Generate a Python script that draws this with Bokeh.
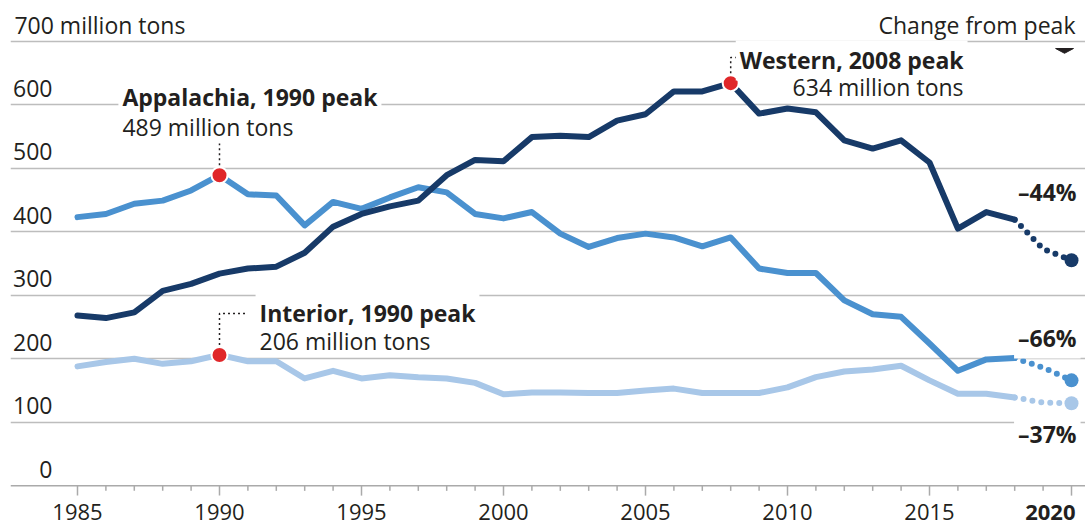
from bokeh.plotting import figure
from bokeh.models import Range1d, FixedTicker, Label
from bokeh.core.properties import value
from bokeh.embed import file_html
from bokeh.resources import INLINE

# ---------------- data ----------------
years = list(range(1985, 2019))
western = [268, 264, 273, 307, 318, 334, 342, 345, 367, 408,
           428, 440, 449, 489, 513, 511, 549, 551, 549, 575,
           585, 621, 621, 634, 586, 594, 588, 544, 531, 544,
           509, 405, 431, 419]
appalachia = [423, 428, 444, 449, 465, 489, 459, 457, 410, 447,
              436, 454, 470, 462, 428, 421, 431, 397, 376, 390,
              397, 391, 377, 391, 342, 335, 335, 292, 270, 266,
              224, 181, 199, 201]
interior = [188, 195, 200, 192, 196, 206, 196, 196, 169, 181,
            169, 174, 171, 169, 162, 144, 147, 147, 146, 146,
            150, 153, 146, 146, 146, 155, 171, 180, 183, 189,
            166, 145, 145, 139]
proj_years = [2018, 2019, 2020]
western_proj = [419, 373, 355]
appalachia_proj = [201, 186, 166]
interior_proj = [139, 131, 130]

y_ticks = [0, 100, 200, 300, 400, 500, 600]
major_years = [1985, 1990, 1995, 2000, 2005, 2010, 2015, 2020]
minor_years = [y for y in range(1985, 2021) if y % 5 != 0]
change_labels = ["\u201344%", "\u201366%", "\u201337%"]

# ---------------- style ----------------
C_WEST = "#173a68"
C_APP = "#4a91cf"
C_INT = "#a8c7e8"
C_RED = "#e0272a"
C_TXT = "#231f20"
C_GRID = "#bdbdbd"
C_AXIS = "#aaaaaa"
FONT = "Open Sans"
FS = "23px"

X0, X1 = 1982.641, 2020.493
p = figure(width=1085, height=527, output_backend="svg", toolbar_location=None,
           x_range=Range1d(X0, X1), y_range=Range1d(-65.7, 764.1),
           min_border_left=10, min_border_right=0, min_border_top=0, min_border_bottom=0)
p.outline_line_color = None
p.background_fill_color = "white"
p.xaxis.visible = False
p.yaxis.visible = False
p.xgrid.visible = False
p.ygrid.ticker = FixedTicker(ticks=[100, 200, 300, 400, 500, 600, 700])
p.ygrid.grid_line_color = C_GRID
p.ygrid.grid_line_width = 1.5

# x axis: baseline, ticks and labels
p.line([X0, X1], [0, 0], line_color=C_AXIS, line_width=1.5)
p.segment(x0=major_years, y0=[0] * len(major_years), x1=major_years, y1=[-15.5] * len(major_years),
          line_color=C_AXIS, line_width=1.5)
p.segment(x0=minor_years, y0=[0] * len(minor_years), x1=minor_years, y1=[-8] * len(minor_years),
          line_color=C_AXIS, line_width=1.5)
p.text(x=major_years[:-1], y=[-42.0] * (len(major_years) - 1), text=[str(v) for v in major_years[:-1]],
       text_font=value(FONT), text_font_size="22px", text_color=C_TXT,
       text_align="center", text_baseline="middle")
p.text(x=[2020.14], y=[-42.0], text=[str(major_years[-1])], text_font=value(FONT),
       text_font_size="22px", text_font_style="bold", text_color=C_TXT,
       text_align="right", text_baseline="middle")

# y tick labels (sit above the gridlines)
p.text(x=[1984.12] * len(y_ticks), y=[v + 26 for v in y_ticks], text=[str(v) for v in y_ticks],
       text_font=value(FONT), text_font_size=FS, text_color=C_TXT,
       text_align="right", text_baseline="middle")
p.text(x=[1982.78], y=[726], text=["700 million tons"], text_font=value(FONT),
       text_font_size=FS, text_color=C_TXT, text_align="left", text_baseline="middle")
p.text(x=[2020.14], y=[726], text=["Change from peak"], text_font=value(FONT),
       text_font_size=FS, text_color=C_TXT, text_align="right", text_baseline="middle")
p.patch(x=[2019.44, 2020.07, 2019.755], y=[688.5, 688.5, 681], color=C_TXT)

# leaders (dotted)
def peak(s):
    i = max(range(len(s)), key=lambda k: s[k])
    return years[i], s[i]

ax_, ay_ = peak(appalachia)
wx_, wy_ = peak(western)
ix_, iy_ = peak(interior)
p.line([ax_, ax_], [ay_, 539], line_color=C_TXT, line_width=1.5, line_dash="2 3")
p.line([wx_, wx_, wx_ + 0.32], [wy_, 674.4, 674.4], line_color=C_TXT, line_width=1.5, line_dash="2 3")
p.line([ix_, ix_, ix_ + 0.93], [iy_, 271.3, 271.3], line_color=C_TXT, line_width=1.5, line_dash="2 3")

# series
for ys, py, col in [(interior, interior_proj, C_INT), (appalachia, appalachia_proj, C_APP),
                    (western, western_proj, C_WEST)]:
    p.line(years, ys, line_color=col, line_width=6, line_join="round", line_cap="round")
    p.line(proj_years, py, line_color=col, line_width=6, line_dash="0 9", line_cap="round")
    p.scatter([proj_years[-1]], [py[-1]], size=14, fill_color=col, line_color=None)

# peak dots
p.scatter([ax_, wx_, ix_], [ay_, wy_, iy_], size=16, fill_color=C_RED,
          line_color="white", line_width=2)

# callouts
def lab(x, y, t, bold, align):
    p.add_layout(Label(x=x, y=y, text=t, text_font=FONT, text_font_size=FS,
                       text_font_style="bold" if bold else "normal", text_color=C_TXT,
                       text_align=align, text_baseline="middle",
                       background_fill_color="white" if bold else None, padding=4))

lab(1986.44, 611.6, "Appalachia, 1990 peak", True, "left")
lab(1986.44, 564.8, "489 million tons", False, "left")
lab(2016.34, 669.8, "Western, 2008 peak", True, "right")
lab(2016.34, 627.3, "634 million tons", False, "right")
lab(1991.27, 271.3, "Interior, 1990 peak", True, "left")
lab(1991.27, 227.2, "206 million tons", False, "left")

for t, yv in zip(change_labels, [462, 232, 82]):
    p.add_layout(Label(x=2020.32, y=yv, text=t, text_font=FONT, text_font_size="23px",
                       text_font_style="bold", text_color=C_TXT, text_align="right",
                       text_baseline="middle", background_fill_color="white", padding=4))

open("out.html", "w").write(file_html(p, INLINE))
